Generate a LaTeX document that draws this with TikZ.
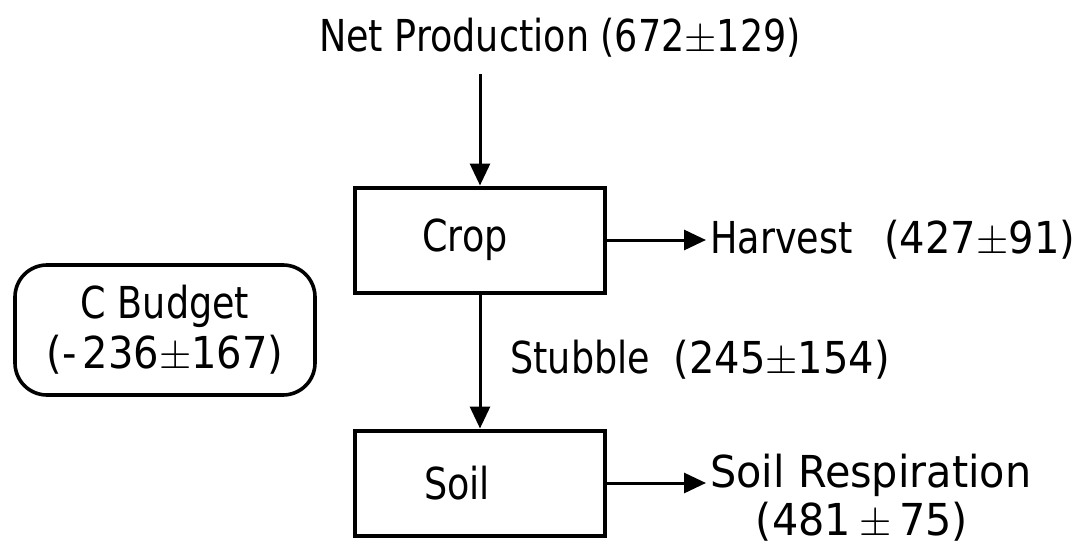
\documentclass[tikz,border=0pt]{standalone}
\usepackage{fontspec}
\setmainfont{DejaVu Sans}[FakeStretch=0.83]
\newfontfamily\wfont{DejaVu Sans}[FakeStretch=0.91]
\newfontfamily\xwfont{DejaVu Sans}[FakeStretch=0.94]
\usetikzlibrary{arrows.meta}
\begin{document}
\begin{tikzpicture}[x=0.5pt,y=-0.5pt,
  lbl/.style={font=\fontsize{22}{23}\selectfont, inner sep=2pt},
  boxnode/.style={draw, line width=2pt, minimum width=125pt, minimum height=52.5pt, font=\fontsize{22}{23}\selectfont},
  budgetbox/.style={draw, line width=1.8pt, rounded corners=16pt, minimum width=150pt, minimum height=65pt, align=center, font=\fontsize{22}{25}\selectfont},
  arr/.style={line width=1.5pt, -{Triangle[length=11pt,width=10pt]}}]
\useasboundingbox (0,0) rectangle (1078,546);
\node[lbl] (np) at (560,38) {Net Production (672$\pm$129)};
\node[boxnode] (crop) at (480,240) {Crop\rule{15pt}{0pt}};
\node[boxnode] (soil) at (480,483) {Soil\rule{23pt}{0pt}};
\node[budgetbox] (budget) at (165,330) {C Budget\\{\wfont (-\hspace{3pt}236$\pm$167)}};
\node[lbl, anchor=west] (harvest) at (706,240) {Harvest\hspace{10pt} {\wfont (427$\pm$91)}};
\node[lbl, anchor=west] (stubble) at (506,360) {Stubble\hspace{6pt} {\wfont (245$\pm$154)}};
\node[lbl, anchor=west] (resp) at (706,475) {\xwfont Soil Respiration};
\node[lbl] (resp2) at (862,522) {\xwfont (481\hspace{4pt}$\pm$\hspace{4pt}75)};
\draw[arr] ([yshift=-6pt]np.south -| crop.north) -- (crop.north);
\draw[arr] (crop.east) -- (harvest.west);
\draw[arr] (crop.south) -- (soil.north);
\draw[arr] (soil.east) -- (soil.east -| resp.west);
\end{tikzpicture}
\end{document}
